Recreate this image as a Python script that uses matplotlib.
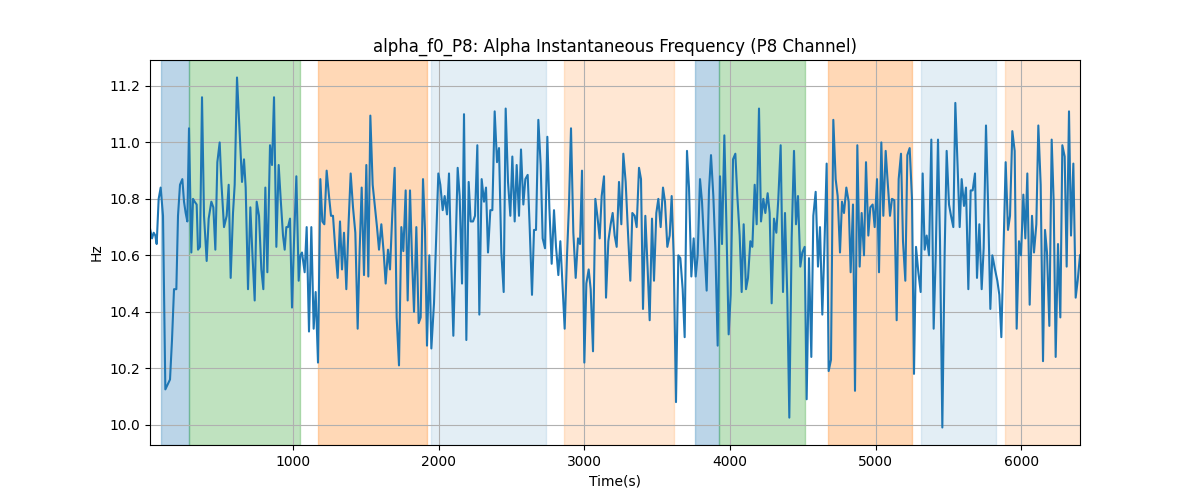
import numpy as np
import matplotlib
matplotlib.use('Agg')
import matplotlib.pyplot as plt

# Sample times (s) and alpha instantaneous frequency (Hz)
times = [
    18.5, 32.3, 43.7, 55.1, 64.3, 78.0, 91.7, 107.8, 123.8, 137.5, 146.7, 155.8,
    169.5, 183.3, 199.3, 210.7, 224.4, 240.5, 251.9, 263.3, 274.8, 286.2, 302.2,
    313.7, 325.1, 338.8, 348.0, 361.7, 375.5, 389.2, 407.5, 421.2, 439.5, 453.2,
    467.0, 480.7, 496.7, 508.2, 526.5, 544.8, 558.5, 572.2, 588.2, 599.7, 615.7,
    631.7, 650.0, 663.7, 675.2, 691.2, 707.2, 720.9, 737.0, 750.7, 766.7, 782.7,
    796.4, 810.2, 823.9, 842.2, 855.9, 869.7, 885.7, 901.7, 915.4, 931.4, 942.9,
    954.3, 965.8, 979.5, 993.2, 1007.0, 1023.0, 1039.0,
    1050.3, 1061.7, 1080.0, 1093.8, 1109.8, 1125.8, 1141.8, 1155.5, 1171.6,
    1187.6, 1201.3, 1215.0, 1231.0, 1247.1, 1260.8, 1274.5, 1290.5, 1306.5,
    1322.6, 1336.3, 1350.0, 1366.0, 1382.0, 1395.8, 1411.8, 1427.8, 1443.8,
    1457.6, 1471.3, 1487.3, 1503.3, 1517.0, 1530.8, 1546.8, 1562.8, 1576.5,
    1590.3, 1606.3, 1622.3, 1636.0, 1652.0, 1665.8, 1681.8, 1697.8, 1711.5,
    1727.5, 1743.6, 1757.3, 1773.3, 1787.0, 1803.0, 1816.8, 1830.5, 1846.5,
    1862.5, 1876.3, 1892.3, 1906.0, 1919.7, 1935.7, 1949.5, 1967.8, 1981.5,
    1997.5, 2011.2, 2027.3, 2041.0, 2057.0, 2070.7, 2084.5, 2100.5,
    2130.2, 2143.9, 2160.0, 2173.7, 2189.7, 2205.7, 2219.4, 2235.5, 2249.2,
    2265.2, 2278.9, 2294.9, 2311.0, 2324.7, 2338.4, 2354.4, 2368.2, 2384.2,
    2400.2, 2413.9, 2429.9, 2446.0, 2459.7, 2475.7, 2491.7, 2505.4, 2521.5,
    2535.2, 2551.2, 2564.9, 2580.9, 2594.7, 2610.7, 2624.4, 2640.4, 2654.2,
    2667.9, 2683.9, 2699.9, 2713.6, 2729.7, 2745.7, 2759.4, 2775.4, 2791.4,
    2805.2, 2821.2, 2834.9, 2850.9, 2864.6, 2880.7, 2894.4, 2908.1, 2924.1,
    2940.2, 2956.2, 2969.9, 2983.6, 2999.6, 3013.4, 3029.4, 3043.1, 3059.1,
    3075.1, 3088.9, 3104.9, 3118.6, 3134.6, 3148.4, 3164.4,
    3180.3, 3194.0, 3207.7, 3221.5, 3237.5, 3253.5, 3267.2, 3283.2, 3299.3,
    3315.3, 3329.0, 3345.0, 3358.7, 3374.8, 3388.5, 3402.2, 3418.2, 3434.2,
    3448.0, 3464.0, 3477.7, 3493.7, 3507.5, 3523.5, 3539.5, 3553.2, 3569.2,
    3585.3, 3599.0, 3612.7, 3628.7, 3644.7, 3658.5, 3674.5, 3688.2, 3704.2,
    3718.0, 3734.0, 3750.0, 3763.7, 3777.4, 3793.5, 3807.2, 3823.2, 3839.2,
    3855.2, 3869.0, 3885.0, 3898.7, 3914.7, 3930.7, 3944.5, 3960.5, 3974.2,
    3990.2, 4004.0, 4020.0, 4036.0, 4049.7, 4065.7, 4079.5, 4093.2, 4109.2,
    4122.9, 4139.0, 4152.7, 4168.7, 4182.4, 4198.4, 4212.2, 4228.2,
    4241.8, 4257.8, 4271.5, 4285.3, 4301.3, 4317.3, 4331.0, 4347.0, 4363.1,
    4376.8, 4392.8, 4406.5, 4422.5, 4438.6, 4452.3, 4466.0, 4482.0, 4495.8,
    4511.8, 4525.5, 4541.5, 4557.5, 4571.3, 4587.3, 4603.3, 4617.0, 4633.0,
    4646.8, 4662.8, 4676.5, 4692.5, 4708.5, 4724.6, 4738.3, 4754.3, 4768.0,
    4781.8, 4797.8, 4813.8, 4827.5, 4843.5, 4857.3, 4873.3, 4889.3, 4903.0,
    4919.0, 4932.8, 4948.8, 4962.5, 4978.5, 4992.3, 5008.3, 5022.0, 5038.0,
    5051.7, 5067.8, 5081.5, 5097.5, 5111.2, 5127.2, 5143.3, 5157.0, 5173.0,
    5186.7, 5202.7, 5216.5, 5232.5, 5248.5, 5262.2, 5276.0, 5292.0,
    5308.0, 5321.7, 5335.4, 5349.2, 5365.2, 5381.2, 5397.2, 5410.9, 5427.0,
    5440.7, 5456.7, 5472.7, 5486.4, 5502.5, 5516.2, 5532.2, 5545.9, 5561.9,
    5575.7, 5589.4, 5605.4, 5619.1, 5635.2, 5651.2, 5664.9, 5680.9, 5694.6,
    5710.7, 5726.7, 5740.4, 5756.4, 5770.2, 5786.2, 5799.9, 5818.2, 5834.2,
    5847.9, 5861.7, 5877.7, 5891.4, 5907.4, 5921.2, 5937.2, 5953.2, 5966.9,
    5982.9, 5996.7, 6012.7, 6026.4, 6040.1, 6056.2, 6072.2, 6085.9, 6101.9,
    6115.6, 6131.7, 6147.7, 6161.4, 6175.1, 6191.1, 6207.2, 6220.9, 6234.6,
    6250.6, 6266.6, 6280.4, 6296.4, 6310.1, 6326.1, 6339.9, 6355.9, 6371.9,
    6385.6, 6401.6,
]

freq = [
    10.695, 10.66, 10.68, 10.67, 10.64, 10.80, 10.84, 10.74, 10.125, 10.14, 10.15, 10.16,
    10.30, 10.48, 10.48, 10.74, 10.85, 10.87, 10.79, 10.75, 10.72, 11.05, 10.61,
    10.80, 10.79, 10.78, 10.62, 10.63, 11.16, 10.74, 10.58, 10.73, 10.79, 10.77,
    10.62, 10.93, 11.00, 10.86, 10.70, 10.74, 10.85, 10.52, 10.75, 10.85, 11.23,
    11.06, 10.86, 10.94, 10.84, 10.48, 10.77, 10.61, 10.44, 10.79, 10.74, 10.55,
    10.48, 10.84, 10.54, 10.99, 10.92, 11.16, 10.63, 10.92, 10.80, 10.67, 10.62,
    10.70, 10.70, 10.73, 10.415, 10.65, 10.88, 10.51,
    10.60, 10.61, 10.54, 10.70, 10.33, 10.70, 10.34, 10.47, 10.22,
    10.87, 10.72, 10.71, 10.90, 10.81, 10.74, 10.74, 10.62, 10.52,
    10.72, 10.55, 10.68, 10.48, 10.72, 10.89, 10.77, 10.68, 10.34,
    10.62, 10.84, 10.53, 10.92, 10.525, 11.095, 10.85, 10.77, 10.70,
    10.62, 10.71, 10.61, 10.50, 10.62, 10.55, 10.75, 10.91, 10.38,
    10.21, 10.70, 10.615, 10.83, 10.44, 10.83, 10.59, 10.40, 10.70,
    10.36, 10.38, 10.87, 10.69, 10.28, 10.60, 10.27, 10.43, 10.64,
    10.89, 10.85, 10.76, 10.81, 10.745, 10.89, 10.60, 10.315,
    10.91, 10.81, 10.50, 11.10, 10.30, 10.86, 10.72, 10.72, 10.74,
    10.99, 10.39, 10.87, 10.79, 10.84, 10.61, 10.76, 10.76, 11.11,
    10.93, 10.98, 10.61, 10.47, 11.12, 10.86, 10.74, 10.95, 10.72,
    10.92, 10.74, 10.975, 10.78, 10.87, 10.885, 10.70, 10.46, 10.69,
    10.69, 11.08, 10.92, 10.66, 10.625, 11.02, 10.77, 10.57, 10.76,
    10.63, 10.53, 10.65, 10.48, 10.34, 10.60, 10.78, 11.05, 10.68,
    10.52, 10.66, 10.64, 10.90, 10.22, 10.50, 10.55, 10.48, 10.26,
    10.80, 10.74, 10.66, 10.81, 10.88, 10.45, 10.65,
    10.71, 10.75, 10.67, 10.63, 10.86, 10.71, 10.96, 10.86, 10.68,
    10.51, 10.75, 10.74, 10.70, 10.91, 10.87, 10.41, 10.74, 10.55,
    10.37, 10.73, 10.51, 10.75, 10.80, 10.70, 10.84, 10.79, 10.63,
    10.67, 10.81, 10.60, 10.08, 10.60, 10.59, 10.48, 10.31, 10.97,
    10.84, 10.525, 10.66, 10.525, 10.60, 10.87, 10.79, 10.625, 10.475,
    10.83, 10.955, 10.81, 10.625, 10.28, 10.88, 10.64, 11.025, 10.72,
    10.32, 10.46, 10.94, 10.96, 10.81, 10.67, 10.47, 10.71, 10.48,
    10.52, 10.65, 10.63, 10.85, 10.71, 11.12, 10.72, 10.80,
    10.75, 10.82, 10.75, 10.43, 10.73, 10.68, 10.80, 10.99, 10.47,
    10.75, 10.45, 10.025, 10.66, 10.97, 10.71, 10.81, 10.56, 10.61,
    10.63, 10.09, 10.59, 10.24, 10.74, 10.825, 10.56, 10.70, 10.39,
    10.62, 10.925, 10.19, 10.23, 11.08, 10.87, 10.81, 10.61, 10.79,
    10.75, 10.84, 10.79, 10.54, 10.78, 10.12, 10.99, 10.56, 10.75,
    10.60, 10.93, 10.67, 10.77, 10.78, 10.70, 10.87, 10.54, 11.00,
    10.74, 10.97, 10.86, 10.74, 10.80, 10.795, 10.37, 10.87, 10.96,
    10.65, 10.51, 10.955, 10.98, 10.80, 10.18, 10.63, 10.54,
    10.47, 10.89, 10.62, 10.67, 10.60, 11.01, 10.34, 10.59, 11.01,
    10.65, 9.99, 10.61, 10.97, 10.78, 10.74, 10.70, 11.14, 10.91,
    10.70, 10.87, 10.775, 10.84, 10.48, 10.83, 10.83, 10.89, 10.52,
    10.71, 10.48, 10.625, 11.06, 10.79, 10.41, 10.60, 10.55, 10.51,
    10.46, 10.31, 10.64, 10.93, 10.69, 10.74, 11.04, 10.97, 10.34,
    10.65, 10.60, 10.815, 10.66, 10.89, 10.425, 10.74, 10.61, 10.71,
    11.06, 10.85, 10.225, 10.69, 10.61, 10.35, 11.01, 10.79, 10.24,
    10.64, 10.38, 10.99, 10.95, 10.56, 11.11, 10.67, 10.925, 10.45,
    10.51, 10.60,
]

# Shaded segments: (start, end, colour, alpha)
seg_start = [92, 284, 1172, 1947, 2860, 3761, 3926, 4672, 5310, 5887]
seg_end = [284, 1046, 1920, 2737, 3615, 3926, 4512, 5246, 5825, 6410]
seg_color = ['tab:blue', 'tab:green', 'tab:orange', 'tab:blue', 'tab:orange',
             'tab:blue', 'tab:green', 'tab:orange', 'tab:blue', 'tab:orange']
seg_alpha = [0.3, 0.3, 0.3, 0.12, 0.18, 0.3, 0.3, 0.3, 0.12, 0.18]

fig, ax = plt.subplots(figsize=(12, 5), dpi=100)

for s, e, c, a in zip(seg_start, seg_end, seg_color, seg_alpha):
    ax.axvspan(s, e, color=c, alpha=a)

ax.plot(times, freq, color='tab:blue', linewidth=1.5)

ax.set_xlim(times[0], times[-1])
ax.set_title('alpha_f0_P8: Alpha Instantaneous Frequency (P8 Channel)')
ax.set_xlabel('Time(s)')
ax.set_ylabel('Hz')
ax.grid(True)

fig.savefig('out.png')
